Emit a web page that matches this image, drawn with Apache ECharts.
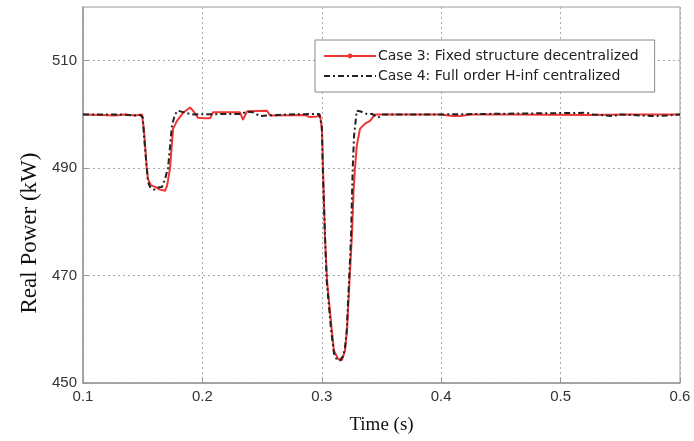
<!DOCTYPE html>
<html>
<head>
<meta charset="utf-8">
<script src="https://cdn.jsdelivr.net/npm/echarts@6/dist/echarts.min.js"></script>
<style>
html,body{margin:0;padding:0;background:#fff;}
#chart{width:694px;height:441px;}
</style>
</head>
<body>
<div id="chart"></div>
<script>
// ---- data ----
var seriesNames = ['Case 3: Fixed structure decentralized', 'Case 4: Full order H-inf centralized'];
var yTickValues = [450, 470, 490, 510];
var xTickValues = [0.1, 0.2, 0.3, 0.4, 0.5, 0.6];

var case3Time = [0.100, 0.1142, 0.1268, 0.1352, 0.1436, 0.1494, 0.1511, 0.1534, 0.1544, 0.1570, 0.1603, 0.1645, 0.1687, 0.1704, 0.1729, 0.1754, 0.1787, 0.1838, 0.1896, 0.1921, 0.1963, 0.2022, 0.2064, 0.2089, 0.2315, 0.2340, 0.2374, 0.2541, 0.2566, 0.2859, 0.2901, 0.2960, 0.2985, 0.3002, 0.3010, 0.3027, 0.3044, 0.3083, 0.3102, 0.3136, 0.3167, 0.3194, 0.3211, 0.3232, 0.3253, 0.3266, 0.3278, 0.3293, 0.3320, 0.3362, 0.3404, 0.3446, 0.3655, 0.3990, 0.4100, 0.4157, 0.4250, 0.4600, 0.5200, 0.5600, 0.6000];
var case3Power = [500.0, 499.9, 499.8, 500.0, 499.8, 500.0, 497.0, 490.0, 488.0, 486.8, 486.5, 486.0, 485.8, 486.7, 490.0, 497.3, 498.8, 500.3, 501.3, 500.7, 499.4, 499.3, 499.3, 500.4, 500.4, 499.0, 500.6, 500.7, 499.8, 499.9, 499.5, 499.6, 500.0, 497.0, 490.0, 477.0, 469.0, 460.0, 456.0, 454.5, 454.2, 456.0, 459.8, 469.0, 477.8, 485.8, 490.0, 494.2, 497.3, 498.3, 498.8, 500.0, 500.0, 500.0, 499.7, 499.7, 500.0, 500.0, 499.9, 500.0, 500.0];

var case4Time = [0.100, 0.1310, 0.1419, 0.1477, 0.1500, 0.1511, 0.1534, 0.1544, 0.1561, 0.1595, 0.1628, 0.1662, 0.1687, 0.1712, 0.1729, 0.1745, 0.1770, 0.1796, 0.1854, 0.1921, 0.2315, 0.2374, 0.2424, 0.2482, 0.2541, 0.2734, 0.2977, 0.3000, 0.3008, 0.3027, 0.3041, 0.3077, 0.3102, 0.3127, 0.3152, 0.3178, 0.3194, 0.3209, 0.3228, 0.3245, 0.3253, 0.3259, 0.3270, 0.3293, 0.3320, 0.3376, 0.3420, 0.3471, 0.3513, 0.3990, 0.5221, 0.5271, 0.5439, 0.5497, 0.5774, 0.5891, 0.6000];
var case4Power = [500.0, 500.0, 499.8, 499.9, 499.5, 496.0, 490.0, 487.5, 486.5, 486.0, 486.4, 486.5, 488.0, 490.0, 494.0, 497.9, 500.0, 500.7, 500.3, 500.0, 500.1, 500.5, 500.4, 499.7, 499.8, 500.0, 500.1, 498.0, 490.0, 477.0, 469.0, 460.0, 455.5, 454.3, 454.2, 455.0, 456.5, 459.8, 469.0, 477.5, 485.0, 490.0, 496.0, 500.7, 500.6, 500.1, 500.1, 499.4, 500.0, 500.0, 500.3, 500.0, 499.7, 500.0, 499.7, 499.8, 500.0];

function pairs(t, v) { return t.map(function (x, i) { return [x, v[i]]; }); }

var chart = echarts.init(document.getElementById('chart'), null, {renderer: 'canvas'});
chart.setOption({
  animation: false,
  backgroundColor: '#fff',
  grid: {left: 83, right: 14, top: 7, bottom: 58, show: true, borderColor: '#999', borderWidth: 1, backgroundColor: 'transparent'},
  legend: {
    orient: 'vertical',
    left: 315, top: 40,
    backgroundColor: '#fff',
    borderColor: '#888', borderWidth: 1,
    padding: [8, 16, 8, 8],
    itemGap: 4,
    itemWidth: 52, itemHeight: 6,
    textStyle: {fontFamily: 'DejaVu Sans', fontSize: 14, color: '#222', lineHeight: 16, padding: [0, 0, 0, -3]},
    data: [
      {name: seriesNames[0]},
      {name: seriesNames[1], itemStyle: {opacity: 0}}
    ]
  },
  xAxis: {
    type: 'value', min: 0.1, max: 0.6, interval: 0.1,
    name: 'Time (s)', nameLocation: 'middle', nameGap: 33,
    nameTextStyle: {fontFamily: 'Liberation Serif, Times New Roman', fontSize: 19, color: '#111'},
    axisLine: {onZero: false, lineStyle: {color: '#999', width: 1.5}},
    axisTick: {inside: true, length: 5, lineStyle: {color: '#999'}},
    axisLabel: {fontFamily: 'Liberation Sans, Arial', fontSize: 15, color: '#333', margin: 6,
      formatter: function (v) { return xTickValues.indexOf(Math.round(v * 10) / 10) >= 0 ? (Math.round(v * 10) / 10).toFixed(1) : ''; }},
    splitLine: {show: true, lineStyle: {color: '#aaa', type: [2, 3], width: 1}}
  },
  yAxis: {
    type: 'value', min: 450, max: 520, interval: 10,
    name: 'Real Power (kW)', nameLocation: 'middle', nameGap: 42,
    nameTextStyle: {fontFamily: 'Liberation Serif, Times New Roman', fontSize: 23, color: '#111', padding: [0, 76, 0, 0]},
    axisLine: {show: true, lineStyle: {color: '#999', width: 1.5}},
    axisTick: {inside: true, length: 5, lineStyle: {color: '#999'}, customValues: yTickValues},
    axisLabel: {fontFamily: 'Liberation Sans, Arial', fontSize: 15, color: '#333', margin: 6, customValues: yTickValues},
    splitLine: {show: true, lineStyle: {color: '#aaa', type: [2, 3], width: 1}}
  },
  series: [
    {
      name: seriesNames[0], type: 'line', data: pairs(case3Time, case3Power),
      symbol: 'circle', symbolSize: 5, showSymbol: false,
      itemStyle: {color: '#f03535'},
      lineStyle: {color: '#f03535', width: 2}, z: 3
    },
    {
      name: seriesNames[1], type: 'line', data: pairs(case4Time, case4Power),
      symbol: 'none',
      itemStyle: {color: '#222'},
      lineStyle: {color: '#222', width: 2, type: [6, 3, 2, 3]}, z: 4
    }
  ]
});
</script>
</body>
</html>
